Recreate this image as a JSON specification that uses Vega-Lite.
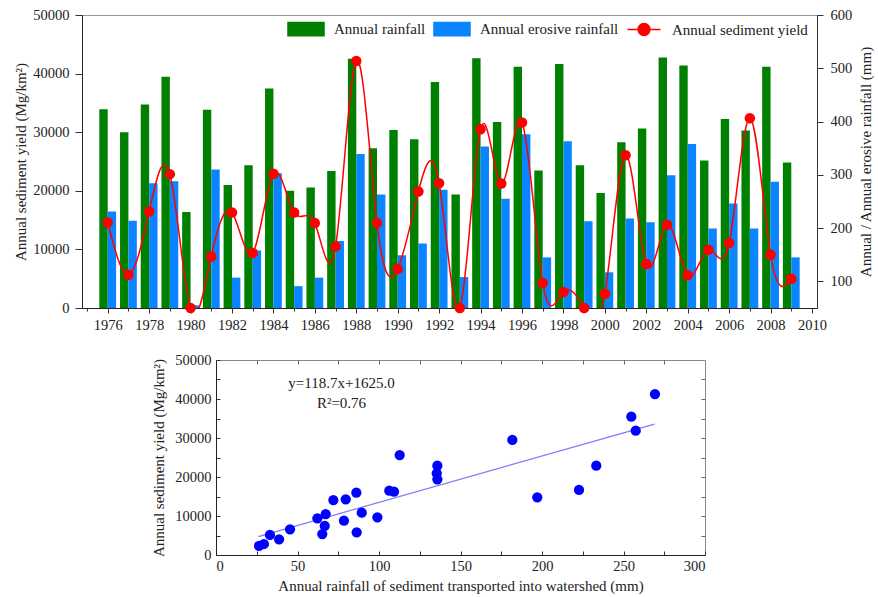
{
  "$schema": "https://vega.github.io/schema/vega-lite/v6.json",
  "background": "white",
  "padding": {"left": 13, "top": 6, "right": 0, "bottom": 0},
  "bounds": "flush",
  "spacing": 52,
  "config": {
    "view": {"stroke": null},
    "font": "Liberation Serif",
    "axis": {
      "labelFont": "Liberation Serif",
      "titleFont": "Liberation Serif",
      "labelFontSize": 14.5,
      "titleFontSize": 15,
      "titleFontWeight": "normal",
      "labelColor": "#222",
      "titleColor": "#222",
      "domainColor": "#333",
      "tickColor": "#333",
      "grid": false,
      "labelOverlap": false
    }
  },
  "datasets": {
    "annual": [
      {"year": 1976, "rainfall": 423, "erosive": 231, "sediment": 14600},
      {"year": 1977, "rainfall": 380, "erosive": 214, "sediment": 5680},
      {"year": 1978, "rainfall": 432, "erosive": 284, "sediment": 16480},
      {"year": 1979, "rainfall": 484, "erosive": 288, "sediment": 22840},
      {"year": 1980, "rainfall": 230, "erosive": 55, "sediment": 0},
      {"year": 1981, "rainfall": 422, "erosive": 310, "sediment": 8800},
      {"year": 1982, "rainfall": 281, "erosive": 107, "sediment": 16300},
      {"year": 1983, "rainfall": 318, "erosive": 158, "sediment": 9380},
      {"year": 1984, "rainfall": 462, "erosive": 303, "sediment": 22900},
      {"year": 1985, "rainfall": 270, "erosive": 91, "sediment": 16300},
      {"year": 1986, "rainfall": 276, "erosive": 107, "sediment": 14490},
      {"year": 1987, "rainfall": 307, "erosive": 176, "sediment": 10510},
      {"year": 1988, "rainfall": 518, "erosive": 339, "sediment": 42160},
      {"year": 1989, "rainfall": 350, "erosive": 263, "sediment": 14490},
      {"year": 1990, "rainfall": 384, "erosive": 149, "sediment": 6650},
      {"year": 1991, "rainfall": 367, "erosive": 171, "sediment": 19890},
      {"year": 1992, "rainfall": 474, "erosive": 272, "sediment": 21300},
      {"year": 1993, "rainfall": 263, "erosive": 108, "sediment": 0},
      {"year": 1994, "rainfall": 519, "erosive": 353, "sediment": 30510},
      {"year": 1995, "rainfall": 399, "erosive": 255, "sediment": 21250},
      {"year": 1996, "rainfall": 503, "erosive": 376, "sediment": 31650},
      {"year": 1997, "rainfall": 308, "erosive": 145, "sediment": 4260},
      {"year": 1998, "rainfall": 508, "erosive": 363, "sediment": 2730},
      {"year": 1999, "rainfall": 318, "erosive": 213, "sediment": 0},
      {"year": 2000, "rainfall": 266, "erosive": 117, "sediment": 2440},
      {"year": 2001, "rainfall": 361, "erosive": 218, "sediment": 26080},
      {"year": 2002, "rainfall": 387, "erosive": 211, "sediment": 7500},
      {"year": 2003, "rainfall": 520, "erosive": 299, "sediment": 14200},
      {"year": 2004, "rainfall": 505, "erosive": 358, "sediment": 5570},
      {"year": 2005, "rainfall": 327, "erosive": 199, "sediment": 9940},
      {"year": 2006, "rainfall": 405, "erosive": 246, "sediment": 11080},
      {"year": 2007, "rainfall": 383, "erosive": 199, "sediment": 32390},
      {"year": 2008, "rainfall": 503, "erosive": 287, "sediment": 9090},
      {"year": 2009, "rainfall": 323, "erosive": 145, "sediment": 5000}
    ],
    "transport": [
      {"rain": 26.4, "yield": 2310},
      {"rain": 29.4, "yield": 2820},
      {"rain": 33.1, "yield": 5130},
      {"rain": 38.7, "yield": 4020},
      {"rain": 45.4, "yield": 6590},
      {"rain": 62.2, "yield": 9400},
      {"rain": 67.3, "yield": 10510},
      {"rain": 66.7, "yield": 7440},
      {"rain": 65.2, "yield": 5380},
      {"rain": 72.0, "yield": 14100},
      {"rain": 79.6, "yield": 14280},
      {"rain": 86.1, "yield": 15980},
      {"rain": 78.5, "yield": 8800},
      {"rain": 89.4, "yield": 10850},
      {"rain": 86.3, "yield": 5810},
      {"rain": 99.0, "yield": 9670},
      {"rain": 106.3, "yield": 16490},
      {"rain": 109.2, "yield": 16240},
      {"rain": 112.7, "yield": 25640},
      {"rain": 135.8, "yield": 22900},
      {"rain": 135.4, "yield": 20940},
      {"rain": 135.8, "yield": 19400},
      {"rain": 181.8, "yield": 29490},
      {"rain": 197.1, "yield": 14790},
      {"rain": 222.7, "yield": 16670},
      {"rain": 233.3, "yield": 22900},
      {"rain": 254.8, "yield": 35460},
      {"rain": 257.5, "yield": 31880},
      {"rain": 269.3, "yield": 41280}
    ],
    "fit": [
      {"rain": 26, "yield": 4711.2},
      {"rain": 269, "yield": 33555.3}
    ],
    "note": [
      {"rain": 77, "yield": 44100, "text": "y=118.7x+1625.0"},
      {"rain": 77, "yield": 39050, "text": "R²=0.76"}
    ]
  },
  "vconcat": [
    {
      "width": 735,
      "height": 293,
      "data": {"name": "annual"},
      "view": {"stroke": "#999"},
      "encoding": {
        "x": {
          "field": "year",
          "type": "quantitative",
          "scale": {"domain": [1975, 2010], "nice": false, "zero": false},
          "axis": {
            "title": null,
            "values": [1975, 1976, 1977, 1978, 1979, 1980, 1981, 1982, 1983, 1984, 1985, 1986, 1987, 1988, 1989, 1990, 1991, 1992, 1993, 1994, 1995, 1996, 1997, 1998, 1999, 2000, 2001, 2002, 2003, 2004, 2005, 2006, 2007, 2008, 2009, 2010],
            "format": "d",
            "labelExpr": "datum.value % 2 === 0 ? datum.label : ''",
            "tickSize": {"condition": {"test": "datum.value % 2 === 0", "value": 5}, "value": 3},
            "labelPadding": 5,
            "domainColor": "#222"
          }
        }
      },
      "layer": [
        {
          "encoding": {
            "color": {
              "datum": "Annual rainfall",
              "type": "nominal",
              "scale": {
                "domain": ["Annual rainfall", "Annual erosive rainfall", "Annual sediment yield"],
                "range": ["#008000", "#0a84ff", "#ff0000"]
              },
              "legend": {
                "title": null,
                "orient": "none",
                "direction": "horizontal",
                "legendX": 205,
                "legendY": -5,
                "padding": 0,
                "symbolSize": 1296,
                "labelFont": "Liberation Serif",
                "labelFontSize": 15,
                "labelColor": "#222",
                "labelOffset": 9,
                "labelLimit": 0,
                "columnPadding": 5,
                "encode": {
                  "symbols": {
                    "update": {
                      "shape": {"signal": "datum.label === 'Annual sediment yield' ? 'M-0.92,0H0.92M0.33,0A0.33,0.33 0 1,1 -0.33,0A0.33,0.33 0 1,1 0.33,0Z' : 'M-1,-0.37H1V0.37H-1Z'"},
                      "fill": {"signal": "datum.label === 'Annual rainfall' ? '#008000' : datum.label === 'Annual erosive rainfall' ? '#0a84ff' : '#ff0000'"},
                      "stroke": {"signal": "datum.label === 'Annual sediment yield' ? '#ff0000' : 'transparent'"},
                      "strokeWidth": {"value": 1.5},
                      "opacity": {"value": 1}
                    }
                  }
                }
              }
            }
          },
          "layer": [
            {
              "mark": {"type": "bar", "size": 8.4, "xOffset": -4.2, "clip": true},
              "encoding": {
                "y": {
                  "field": "rainfall",
                  "type": "quantitative",
                  "title": "Annual / Annual erosive rainfall (mm)",
                  "scale": {"domain": [50, 600], "nice": false, "zero": false},
                  "axis": {
                    "orient": "right",
                    "title": "Annual / Annual erosive rainfall (mm)",
                    "values": [100, 200, 300, 400, 500, 600],
                    "format": "d",
                    "tickSize": 6,
                    "labelPadding": 7,
                    "titleAngle": 270,
                    "titleBaseline": "middle",
                    "titleX": 48
                  }
                }
              }
            },
            {
              "mark": {"type": "bar", "size": 8.4, "xOffset": 4.2, "clip": true},
              "encoding": {
                "y": {"field": "erosive", "type": "quantitative", "title": "Annual / Annual erosive rainfall (mm)"},
                "color": {"datum": "Annual erosive rainfall", "type": "nominal"}
              }
            }
          ]
        },
        {
          "layer": [
            {
              "mark": {"type": "line", "interpolate": "natural", "strokeWidth": 1.5, "clip": true},
              "encoding": {
                "y": {
                  "field": "sediment",
                  "type": "quantitative",
                  "title": "Annual sediment yield (Mg/km²)",
                  "scale": {"domain": [0, 50000], "nice": false},
                  "axis": {
                    "orient": "left",
                    "values": [0, 5000, 10000, 15000, 20000, 25000, 30000, 35000, 40000, 45000, 50000],
                    "format": "d",
                    "labelExpr": "datum.value % 10000 === 0 ? datum.label : ''",
                    "tickSize": {"condition": {"test": "datum.value % 10000 === 0", "value": 7}, "value": 4},
                    "labelPadding": 6,
                    "titlePadding": 4,
                    "domainColor": "#222"
                  }
                },
                "color": {"datum": "Annual sediment yield", "type": "nominal"}
              }
            },
            {
              "mark": {"type": "circle", "size": 110, "opacity": 1},
              "encoding": {
                "y": {"field": "sediment", "type": "quantitative", "title": "Annual sediment yield (Mg/km²)"},
                "color": {"datum": "Annual sediment yield", "type": "nominal"}
              }
            }
          ]
        }
      ],
      "resolve": {"scale": {"y": "independent"}}
    },
    {
      "bounds": "flush",
      "spacing": 0,
      "hconcat": [
        {
          "width": 134,
          "height": 195,
          "data": {"values": []},
          "mark": "point"
        },
        {
          "width": 489,
          "height": 195,
          "view": {"stroke": "#888"},
          "layer": [
            {
              "data": {"name": "fit"},
              "mark": {"type": "line", "color": "#7a7aff", "strokeWidth": 1.2},
              "encoding": {
                "x": {
                  "field": "rain",
                  "type": "quantitative",
                  "scale": {"domain": [0, 300], "nice": false},
                  "axis": {
                    "orient": "top",
                    "title": null,
                    "labels": false,
                    "domain": false,
                    "values": [25, 50, 75, 100, 125, 150, 175, 200, 225, 250, 275],
                    "tickSize": -4,
                    "tickColor": "#666"
                  }
                },
                "y": {
                  "field": "yield",
                  "type": "quantitative",
                  "scale": {"domain": [0, 50000], "nice": false},
                  "axis": {
                    "orient": "right",
                    "title": null,
                    "labels": false,
                    "domain": false,
                    "values": [5000, 10000, 15000, 20000, 25000, 30000, 35000, 40000, 45000],
                    "tickSize": -4,
                    "tickColor": "#666"
                  }
                }
              }
            },
            {
              "data": {"name": "transport"},
              "mark": {"type": "circle", "size": 105, "color": "#0000ff", "opacity": 1},
              "encoding": {
                "x": {
                  "field": "rain",
                  "type": "quantitative",
                  "axis": {
                    "orient": "bottom",
                    "title": "Annual rainfall of sediment transported into watershed  (mm)",
                    "values": [0, 25, 50, 75, 100, 125, 150, 175, 200, 225, 250, 275, 300],
                    "format": "d",
                    "labelExpr": "datum.value % 50 === 0 ? datum.label : ''",
                    "tickSize": -4,
                    "labelPadding": 8,
                    "titlePadding": 6,
                    "domainColor": "#222"
                  }
                },
                "y": {
                  "field": "yield",
                  "type": "quantitative",
                  "axis": {
                    "orient": "left",
                    "title": "Annual sediment yield (Mg/km²)",
                    "values": [0, 5000, 10000, 15000, 20000, 25000, 30000, 35000, 40000, 45000, 50000],
                    "format": "d",
                    "labelExpr": "datum.value % 10000 === 0 ? datum.label : ''",
                    "tickSize": -4,
                    "labelPadding": 9,
                    "titlePadding": 8,
                    "domainColor": "#222"
                  }
                }
              }
            },
            {
              "data": {"name": "note"},
              "mark": {"type": "text", "font": "Liberation Serif", "fontSize": 15, "color": "#222"},
              "encoding": {
                "x": {"field": "rain", "type": "quantitative", "axis": null},
                "y": {"field": "yield", "type": "quantitative", "axis": null},
                "text": {"field": "text"}
              }
            }
          ],
          "resolve": {"axis": {"x": "independent", "y": "independent"}}
        }
      ]
    }
  ]
}
